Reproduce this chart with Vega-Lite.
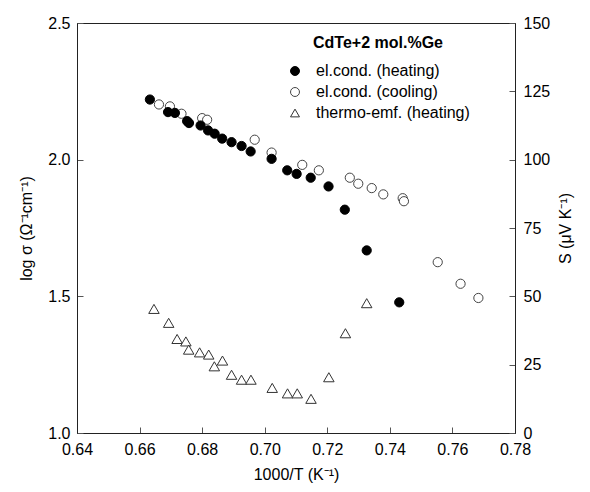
{
  "$schema": "https://vega.github.io/schema/vega-lite/v6.json",
  "width": 438,
  "height": 410,
  "autosize": {"type": "none"},
  "padding": {"left": 77, "top": 23, "right": 75, "bottom": 59},
  "config": {
    "font": "Liberation Sans",
    "view": {"stroke": "#222", "strokeWidth": 1},
    "axis": {
      "grid": false,
      "labelFont": "Liberation Sans",
      "labelFontSize": 16,
      "labelColor": "black",
      "labelFlush": false,
      "labelOverlap": false,
      "titleFont": "Liberation Sans",
      "titleFontSize": 16,
      "titleFontWeight": "normal",
      "titleColor": "black",
      "domainColor": "#222",
      "tickColor": "#555",
      "tickSize": -6
    },
    "legend": {
      "labelFont": "Liberation Sans",
      "labelFontSize": 16,
      "labelColor": "black",
      "titleFont": "Liberation Sans",
      "titleFontSize": 16,
      "titleFontWeight": "bold",
      "titleColor": "black",
      "titleAnchor": "middle",
      "titlePadding": 12,
      "symbolSize": 80,
      "symbolStrokeWidth": 1,
      "rowPadding": 5,
      "labelOffset": 13
    }
  },
  "data": {
    "values": [
      {"series": "el.cond. (cooling)", "x": 0.6662, "v": 2.202},
      {"series": "el.cond. (cooling)", "x": 0.6697, "v": 2.195},
      {"series": "el.cond. (cooling)", "x": 0.6734, "v": 2.168},
      {"series": "el.cond. (cooling)", "x": 0.6800, "v": 2.152},
      {"series": "el.cond. (cooling)", "x": 0.6816, "v": 2.146},
      {"series": "el.cond. (cooling)", "x": 0.6968, "v": 2.073},
      {"series": "el.cond. (cooling)", "x": 0.7022, "v": 2.026},
      {"series": "el.cond. (cooling)", "x": 0.7120, "v": 1.981},
      {"series": "el.cond. (cooling)", "x": 0.7173, "v": 1.961},
      {"series": "el.cond. (cooling)", "x": 0.7272, "v": 1.934},
      {"series": "el.cond. (cooling)", "x": 0.7299, "v": 1.912},
      {"series": "el.cond. (cooling)", "x": 0.7342, "v": 1.896},
      {"series": "el.cond. (cooling)", "x": 0.7379, "v": 1.873},
      {"series": "el.cond. (cooling)", "x": 0.7441, "v": 1.859},
      {"series": "el.cond. (cooling)", "x": 0.7445, "v": 1.848},
      {"series": "el.cond. (cooling)", "x": 0.7553, "v": 1.625},
      {"series": "el.cond. (cooling)", "x": 0.7626, "v": 1.546},
      {"series": "el.cond. (cooling)", "x": 0.7683, "v": 1.494},
      {"series": "el.cond. (heating)", "x": 0.6633, "v": 2.220},
      {"series": "el.cond. (heating)", "x": 0.6691, "v": 2.174},
      {"series": "el.cond. (heating)", "x": 0.6713, "v": 2.171},
      {"series": "el.cond. (heating)", "x": 0.6752, "v": 2.141},
      {"series": "el.cond. (heating)", "x": 0.6758, "v": 2.134},
      {"series": "el.cond. (heating)", "x": 0.6795, "v": 2.125},
      {"series": "el.cond. (heating)", "x": 0.6819, "v": 2.107},
      {"series": "el.cond. (heating)", "x": 0.6840, "v": 2.095},
      {"series": "el.cond. (heating)", "x": 0.6864, "v": 2.077},
      {"series": "el.cond. (heating)", "x": 0.6894, "v": 2.064},
      {"series": "el.cond. (heating)", "x": 0.6926, "v": 2.050},
      {"series": "el.cond. (heating)", "x": 0.6955, "v": 2.030},
      {"series": "el.cond. (heating)", "x": 0.7022, "v": 2.003},
      {"series": "el.cond. (heating)", "x": 0.7072, "v": 1.961},
      {"series": "el.cond. (heating)", "x": 0.7102, "v": 1.948},
      {"series": "el.cond. (heating)", "x": 0.7147, "v": 1.934},
      {"series": "el.cond. (heating)", "x": 0.7204, "v": 1.902},
      {"series": "el.cond. (heating)", "x": 0.7256, "v": 1.817},
      {"series": "el.cond. (heating)", "x": 0.7326, "v": 1.668},
      {"series": "el.cond. (heating)", "x": 0.7430, "v": 1.478},
      {"series": "thermo-emf. (heating)", "x": 0.6646, "v": 45.4},
      {"series": "thermo-emf. (heating)", "x": 0.6693, "v": 40.3},
      {"series": "thermo-emf. (heating)", "x": 0.6720, "v": 34.4},
      {"series": "thermo-emf. (heating)", "x": 0.6748, "v": 33.5},
      {"series": "thermo-emf. (heating)", "x": 0.6757, "v": 30.5},
      {"series": "thermo-emf. (heating)", "x": 0.6792, "v": 29.5},
      {"series": "thermo-emf. (heating)", "x": 0.6821, "v": 28.7},
      {"series": "thermo-emf. (heating)", "x": 0.6865, "v": 26.5},
      {"series": "thermo-emf. (heating)", "x": 0.6839, "v": 24.4},
      {"series": "thermo-emf. (heating)", "x": 0.6894, "v": 21.3},
      {"series": "thermo-emf. (heating)", "x": 0.6926, "v": 19.5},
      {"series": "thermo-emf. (heating)", "x": 0.6956, "v": 19.5},
      {"series": "thermo-emf. (heating)", "x": 0.7024, "v": 16.5},
      {"series": "thermo-emf. (heating)", "x": 0.7073, "v": 14.5},
      {"series": "thermo-emf. (heating)", "x": 0.7104, "v": 14.5},
      {"series": "thermo-emf. (heating)", "x": 0.7148, "v": 12.5},
      {"series": "thermo-emf. (heating)", "x": 0.7205, "v": 20.4},
      {"series": "thermo-emf. (heating)", "x": 0.7258, "v": 36.5},
      {"series": "thermo-emf. (heating)", "x": 0.7326, "v": 47.5}
    ]
  },
  "layer": [
    {
      "transform": [{"filter": "datum.series !== 'thermo-emf. (heating)'"}],
      "mark": {"type": "point", "size": 85, "strokeWidth": 1, "opacity": 1},
      "encoding": {
        "x": {
          "field": "x", "type": "quantitative",
          "scale": {"domain": [0.64, 0.78], "nice": false, "zero": false},
          "axis": {"values": [0.64, 0.66, 0.68, 0.70, 0.72, 0.74, 0.76, 0.78], "format": ".2f", "title": "1000/T  (K⁻¹)", "labelPadding": 14, "titlePadding": 9}
        },
        "y": {
          "field": "v", "type": "quantitative",
          "scale": {"domain": [1, 2.5], "nice": false, "zero": false},
          "axis": {"orient": "left", "values": [1, 1.5, 2, 2.5], "format": ".1f", "title": "log σ (Ω⁻¹cm⁻¹)", "labelPadding": 13, "titlePadding": 13}
        },
        "shape": {
          "field": "series", "type": "nominal", "title": "CdTe+2 mol.%Ge",
          "scale": {"domain": ["el.cond. (heating)", "el.cond. (cooling)", "thermo-emf. (heating)"], "range": ["circle", "circle", "triangle-up"]},
          "legend": {"orient": "none", "legendX": 210, "legendY": 12}
        },
        "fill": {
          "field": "series", "type": "nominal", "title": "CdTe+2 mol.%Ge",
          "scale": {"domain": ["el.cond. (heating)", "el.cond. (cooling)", "thermo-emf. (heating)"], "range": ["black", "white", "white"]},
          "legend": {"orient": "none", "legendX": 210, "legendY": 12}
        },
        "stroke": {
          "field": "series", "type": "nominal", "title": "CdTe+2 mol.%Ge",
          "scale": {"domain": ["el.cond. (heating)", "el.cond. (cooling)", "thermo-emf. (heating)"], "range": ["black", "#444", "#333"]},
          "legend": {"orient": "none", "legendX": 210, "legendY": 12}
        }
      }
    },
    {
      "transform": [{"filter": "datum.series === 'thermo-emf. (heating)'"}],
      "mark": {"type": "point", "size": 110, "strokeWidth": 1, "opacity": 1},
      "encoding": {
        "x": {
          "field": "x", "type": "quantitative",
          "scale": {"domain": [0.64, 0.78], "nice": false, "zero": false},
          "axis": {"values": [0.64, 0.66, 0.68, 0.70, 0.72, 0.74, 0.76, 0.78], "format": ".2f", "title": "1000/T  (K⁻¹)", "labelPadding": 14, "titlePadding": 9}
        },
        "y": {
          "field": "v", "type": "quantitative",
          "scale": {"domain": [0, 150], "nice": false, "zero": false},
          "axis": {"orient": "right", "values": [0, 25, 50, 75, 100, 125, 150], "format": "d", "title": "S (μV K⁻¹)", "titleAngle": -90, "labelPadding": 14, "titlePadding": 24}
        },
        "shape": {
          "field": "series", "type": "nominal", "title": "CdTe+2 mol.%Ge",
          "scale": {"domain": ["el.cond. (heating)", "el.cond. (cooling)", "thermo-emf. (heating)"], "range": ["circle", "circle", "triangle-up"]},
          "legend": {"orient": "none", "legendX": 210, "legendY": 12}
        },
        "fill": {
          "field": "series", "type": "nominal", "title": "CdTe+2 mol.%Ge",
          "scale": {"domain": ["el.cond. (heating)", "el.cond. (cooling)", "thermo-emf. (heating)"], "range": ["black", "white", "white"]},
          "legend": {"orient": "none", "legendX": 210, "legendY": 12}
        },
        "stroke": {
          "field": "series", "type": "nominal", "title": "CdTe+2 mol.%Ge",
          "scale": {"domain": ["el.cond. (heating)", "el.cond. (cooling)", "thermo-emf. (heating)"], "range": ["black", "#444", "#333"]},
          "legend": {"orient": "none", "legendX": 210, "legendY": 12}
        }
      }
    }
  ],
  "resolve": {"scale": {"y": "independent"}}
}
